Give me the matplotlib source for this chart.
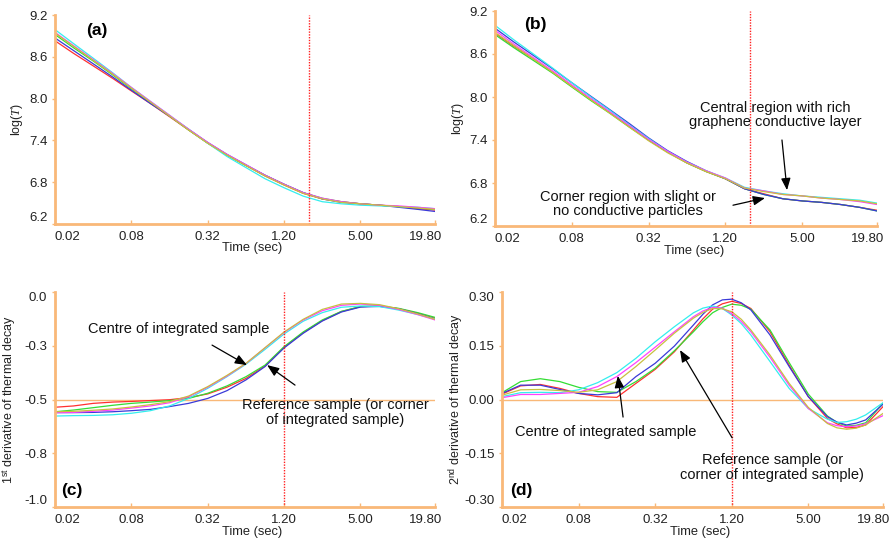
import matplotlib
matplotlib.use("Agg")
import matplotlib.pyplot as plt
from matplotlib.transforms import ScaledTranslation

plt.rcParams['font.family'] = 'Liberation Sans'
plt.rcParams['mathtext.fontset'] = 'custom'
plt.rcParams['mathtext.rm'] = 'Liberation Sans'
plt.rcParams['mathtext.it'] = 'Liberation Serif:italic'

# time grid (sec), log-spaced
time_sec = [0.02, 0.028, 0.04, 0.057, 0.08, 0.113, 0.16, 0.226, 0.32, 0.453, 0.64,
            0.905, 1.28, 1.81, 2.56, 3.62, 5.12, 7.24, 10.24, 14.48, 19.8]
# panel (d) has sharper bends, so a few extra readings around peak and trough
d_time = [0.02, 0.028, 0.04, 0.057, 0.08, 0.113, 0.16, 0.226, 0.32, 0.453, 0.64, 0.76,
          0.905, 1.08, 1.28, 1.52, 1.81, 2.56, 3.62, 5.12, 7.24, 8.6, 10.24, 12.2, 14.48, 19.8]
tick_pos = [0.02, 0.08, 0.32, 1.28, 5.12, 19.8]
tick_labels = ['0.02', '0.08', '0.32', '1.20', '5.00', '19.80']

# (a) log(T) - reference sample
a_red = [8.83, 8.65, 8.47, 8.29, 8.11, 7.93, 7.74, 7.55, 7.36, 7.19, 7.04, 6.89, 6.76, 6.64, 6.56, 6.52, 6.49, 6.47, 6.45, 6.42, 6.40]
a_green = [8.92, 8.73, 8.54, 8.34, 8.14, 7.94, 7.75, 7.55, 7.36, 7.19, 7.04, 6.90, 6.77, 6.65, 6.57, 6.52, 6.49, 6.47, 6.45, 6.43, 6.41]
a_blue = [8.87, 8.69, 8.50, 8.31, 8.12, 7.93, 7.75, 7.56, 7.37, 7.20, 7.05, 6.90, 6.77, 6.65, 6.56, 6.51, 6.49, 6.47, 6.44, 6.41, 6.38]
a_cyan = [8.99, 8.79, 8.58, 8.37, 8.16, 7.96, 7.76, 7.56, 7.36, 7.17, 7.01, 6.85, 6.72, 6.60, 6.52, 6.49, 6.47, 6.46, 6.45, 6.44, 6.42]
a_magenta = [8.95, 8.76, 8.56, 8.36, 8.16, 7.96, 7.76, 7.56, 7.37, 7.20, 7.05, 6.90, 6.77, 6.65, 6.57, 6.52, 6.49, 6.47, 6.46, 6.44, 6.42]
a_yellow = [8.94, 8.75, 8.55, 8.35, 8.15, 7.95, 7.75, 7.55, 7.36, 7.19, 7.04, 6.89, 6.76, 6.64, 6.56, 6.51, 6.49, 6.47, 6.45, 6.43, 6.41]

# (b) log(T) - integrated sample
b_red = [8.89, 8.71, 8.53, 8.34, 8.15, 7.96, 7.78, 7.59, 7.40, 7.23, 7.08, 6.96, 6.86, 6.72, 6.65, 6.58, 6.55, 6.53, 6.50, 6.46, 6.42]
b_green = [8.87, 8.69, 8.51, 8.33, 8.14, 7.95, 7.77, 7.58, 7.40, 7.23, 7.08, 6.96, 6.86, 6.72, 6.64, 6.58, 6.55, 6.53, 6.50, 6.46, 6.41]
b_blue = [8.96, 8.77, 8.58, 8.39, 8.20, 8.01, 7.82, 7.63, 7.43, 7.25, 7.10, 6.97, 6.86, 6.72, 6.64, 6.58, 6.55, 6.53, 6.50, 6.46, 6.41]
b_cyan = [9.00, 8.80, 8.60, 8.40, 8.20, 8.00, 7.81, 7.61, 7.42, 7.24, 7.09, 6.97, 6.87, 6.74, 6.69, 6.65, 6.62, 6.60, 6.58, 6.56, 6.52]
b_magenta = [8.93, 8.74, 8.55, 8.36, 8.17, 7.98, 7.79, 7.60, 7.41, 7.24, 7.09, 6.97, 6.87, 6.73, 6.69, 6.64, 6.62, 6.59, 6.57, 6.54, 6.50]
b_yellow = [8.90, 8.72, 8.53, 8.34, 8.15, 7.96, 7.77, 7.58, 7.39, 7.22, 7.08, 6.96, 6.86, 6.73, 6.68, 6.64, 6.62, 6.59, 6.57, 6.55, 6.51]

# (c) 1st derivative
c_red = [-0.536, -0.530, -0.518, -0.512, -0.509, -0.505, -0.501, -0.491, -0.474, -0.443, -0.402, -0.344, -0.257, -0.189, -0.133, -0.091, -0.068, -0.065, -0.078, -0.099, -0.122]
c_green = [-0.557, -0.549, -0.538, -0.527, -0.518, -0.512, -0.505, -0.495, -0.471, -0.437, -0.394, -0.340, -0.254, -0.186, -0.130, -0.090, -0.068, -0.065, -0.076, -0.096, -0.118]
c_blue = [-0.561, -0.561, -0.560, -0.557, -0.552, -0.546, -0.533, -0.518, -0.495, -0.459, -0.409, -0.347, -0.260, -0.192, -0.135, -0.093, -0.070, -0.067, -0.078, -0.101, -0.126]
c_cyan = [-0.577, -0.575, -0.574, -0.571, -0.564, -0.552, -0.530, -0.495, -0.448, -0.394, -0.336, -0.267, -0.195, -0.136, -0.096, -0.071, -0.065, -0.068, -0.084, -0.105, -0.126]
c_magenta = [-0.561, -0.560, -0.555, -0.549, -0.540, -0.530, -0.515, -0.487, -0.443, -0.391, -0.333, -0.260, -0.188, -0.130, -0.087, -0.062, -0.056, -0.062, -0.081, -0.105, -0.130]
c_yellow = [-0.557, -0.555, -0.550, -0.544, -0.535, -0.524, -0.510, -0.484, -0.440, -0.388, -0.332, -0.259, -0.186, -0.127, -0.081, -0.056, -0.053, -0.059, -0.078, -0.102, -0.127]

# (d) 2nd derivative (on d_time)
d_red = [0.015, 0.038, 0.042, 0.031, 0.017, 0.008, 0.006, 0.045, 0.084, 0.133, 0.194, 0.225, 0.252, 0.267, 0.274, 0.268, 0.254, 0.189, 0.096, 0.008, -0.053, -0.068, -0.079, -0.078, -0.071, -0.020]
d_green = [0.019, 0.050, 0.058, 0.050, 0.034, 0.022, 0.020, 0.050, 0.087, 0.136, 0.189, 0.217, 0.242, 0.257, 0.266, 0.263, 0.252, 0.194, 0.103, 0.015, -0.046, -0.064, -0.074, -0.072, -0.065, -0.011]
d_blue = [0.017, 0.040, 0.040, 0.028, 0.017, 0.013, 0.019, 0.064, 0.101, 0.149, 0.208, 0.238, 0.264, 0.278, 0.280, 0.270, 0.250, 0.180, 0.092, 0.008, -0.048, -0.063, -0.071, -0.066, -0.057, -0.013]
d_cyan = [0.008, 0.019, 0.020, 0.019, 0.027, 0.047, 0.075, 0.115, 0.161, 0.203, 0.242, 0.255, 0.261, 0.254, 0.236, 0.212, 0.180, 0.106, 0.031, -0.025, -0.055, -0.064, -0.062, -0.055, -0.043, -0.009]
d_magenta = [0.005, 0.014, 0.014, 0.017, 0.020, 0.036, 0.064, 0.103, 0.146, 0.189, 0.231, 0.247, 0.257, 0.255, 0.240, 0.218, 0.189, 0.118, 0.040, -0.025, -0.065, -0.073, -0.076, -0.074, -0.068, -0.045]
d_yellow = [0.012, 0.027, 0.028, 0.025, 0.020, 0.027, 0.050, 0.092, 0.138, 0.185, 0.227, 0.243, 0.254, 0.253, 0.245, 0.224, 0.194, 0.124, 0.045, -0.022, -0.067, -0.079, -0.083, -0.080, -0.071, -0.039]

line_colors = ['#ff3030', '#33dd33', '#3a3ad8', '#33eeee', '#ff40ff', '#c8c040']
orange = '#f9b878'
red_marker = '#ff2020'

fig = plt.figure(figsize=(8.93, 5.38), dpi=100)
W, H = 893, 538


def make_axes(left, top, right, bottom):
    return fig.add_axes([left / W, 1 - bottom / H, (right - left) / W, (bottom - top) / H])


def style_axes(ax, yticks, ylabels, ylim, ylabel, ylabel_x, top_label_down):
    ax.set_xscale('log')
    ax.set_xlim(0.02, 19.8)
    ax.set_ylim(*ylim)
    ax.minorticks_off()
    ax.set_xticks(tick_pos, labels=tick_labels)
    ax.set_yticks(yticks, labels=ylabels)
    for s in ['top', 'right']:
        ax.spines[s].set_visible(False)
    for s in ['left', 'bottom']:
        ax.spines[s].set_color(orange)
        ax.spines[s].set_linewidth(2)
    ax.tick_params(axis='x', direction='in', length=3, color=orange, width=1,
                   labelsize=9.5, pad=5, labelcolor='#222222')
    ax.tick_params(axis='y', direction='out', length=2.5, color=orange, width=1,
                   labelsize=9.5, pad=3, labelcolor='#222222')
    xl = ax.get_xticklabels()
    xl[0].set_ha('left')
    xl[-1].set_ha('right')
    xl[-1].set_transform(xl[-1].get_transform() + ScaledTranslation(5 / 72, 0, fig.dpi_scale_trans))
    yl = ax.get_yticklabels()
    yl[0].set_va('bottom')
    if top_label_down:
        yl[-1].set_va('top')
    ax.set_xlabel('Time (sec)', fontsize=9.3, color='#222222')
    ax.xaxis.set_label_coords(0.52, -0.087)
    ax.set_ylabel(ylabel, fontsize=9, color='#222222')
    ax.yaxis.set_label_coords(ylabel_x, 0.5)


def plot_series(ax, t, series):
    for vals, col in zip(series, line_colors):
        ax.plot(t, vals, color=col, lw=0.9)


arrow = dict(arrowstyle='-|>,head_length=0.55,head_width=0.22', color='black',
             lw=0.9, mutation_scale=13, shrinkA=0, shrinkB=0)
txt = dict(fontsize=10.5, ha='center', va='center', color='#111111', linespacing=1.05)

# (a)
ax = make_axes(55, 15, 435, 224)
plot_series(ax, time_sec, [a_red, a_green, a_blue, a_cyan, a_magenta, a_yellow])
ax.axvline(2.0, color=red_marker, lw=1, ls=(0, (1, 1)))
style_axes(ax, [6.2, 6.8, 7.4, 8.0, 8.6, 9.2], ['6.2', '6.8', '7.4', '8.0', '8.6', '9.2'],
           (6.2, 9.2), 'log($T$)', -0.079, False)
ax.text(0.11, 0.928, '(a)', transform=ax.transAxes, fontsize=12.5, fontweight='bold',
        ha='center', va='center')

# (b)
ax = make_axes(495, 11, 877, 226)
plot_series(ax, time_sec, [b_red, b_green, b_blue, b_cyan, b_magenta, b_yellow])
ax.axvline(2.0, color=red_marker, lw=1, ls=(0, (1, 1)))
style_axes(ax, [6.2, 6.8, 7.4, 8.0, 8.6, 9.2], ['6.2', '6.8', '7.4', '8.0', '8.6', '9.2'],
           (6.2, 9.2), 'log($T$)', -0.076, False)
ax.text(0.105, 0.935, '(b)', transform=ax.transAxes, fontsize=12.5, fontweight='bold',
        ha='center', va='center')
ax.text(0.733, 0.516, 'Central region with rich\ngraphene conductive layer',
        transform=ax.transAxes, **txt)
ax.annotate('', xy=(3.9, 6.70), xytext=(3.56, 7.40), arrowprops=arrow)
ax.text(0.348, 0.102, 'Corner region with slight or\nno conductive particles',
        transform=ax.transAxes, **txt)
ax.annotate('', xy=(2.62, 6.59), xytext=(1.47, 6.49), arrowprops=arrow)

# (c)
ax = make_axes(55, 292, 435, 507)
ax.axhline(-0.5, color=orange, lw=1)
plot_series(ax, time_sec, [c_red, c_green, c_blue, c_cyan, c_magenta, c_yellow])
ax.axvline(tick_pos[3], color=red_marker, lw=1, ls=(0, (1, 1)))
style_axes(ax, [-1.0, -0.75, -0.5, -0.25, 0.0], ['-1.0', '-0.8', '-0.5', '-0.3', '0.0'],
           (-1.0, 0.0), r'1$^{\mathrm{st}}$ derivative of thermal decay', -0.097, True)
ax.text(0.045, 0.079, '(c)', transform=ax.transAxes, fontsize=12.5, fontweight='bold',
        ha='center', va='center')
ax.text(0.326, 0.828, 'Centre of integrated sample', transform=ax.transAxes, **txt)
ax.annotate('', xy=(0.652, -0.340), xytext=(0.346, -0.247), arrowprops=arrow)
ax.text(0.737, 0.44, 'Reference sample (or corner\nof integrated sample)',
        transform=ax.transAxes, **txt)
ax.annotate('', xy=(0.94, -0.340), xytext=(1.56, -0.433), arrowprops=arrow)

# (d)
ax = make_axes(502, 292, 883, 507)
ax.axhline(0.0, color=orange, lw=1)
plot_series(ax, d_time, [d_red, d_green, d_blue, d_cyan, d_magenta, d_yellow])
ax.axvline(tick_pos[3], color=red_marker, lw=1, ls=(0, (1, 1)))
style_axes(ax, [-0.30, -0.15, 0.0, 0.15, 0.30], ['-0.30', '-0.15', '0.00', '0.15', '0.30'],
           (-0.30, 0.30), r'2$^{\mathrm{nd}}$ derivative of thermal decay', -0.097, True)
ax.text(0.052, 0.079, '(d)', transform=ax.transAxes, fontsize=12.5, fontweight='bold',
        ha='center', va='center')
ax.text(0.273, 0.349, 'Centre of integrated sample', transform=ax.transAxes, **txt)
ax.annotate('', xy=(0.163, 0.066), xytext=(0.179, -0.049), arrowprops=arrow)
ax.text(0.709, 0.184, 'Reference sample (or\ncorner of integrated sample)',
        transform=ax.transAxes, **txt)
ax.annotate('', xy=(0.502, 0.138), xytext=(1.29, -0.107), arrowprops=arrow)

fig.savefig('out.png', dpi=100)
